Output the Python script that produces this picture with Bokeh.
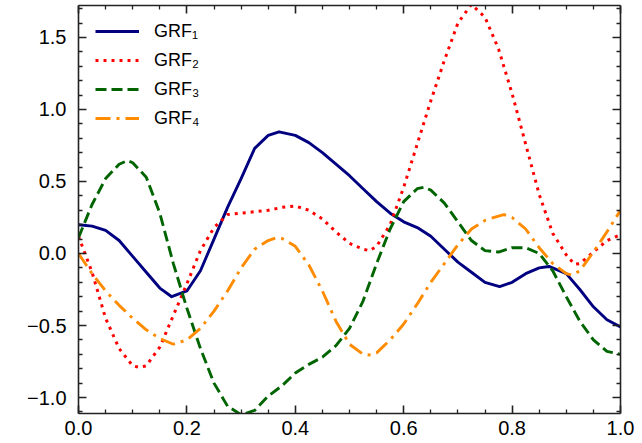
from bokeh.plotting import figure
from bokeh.models import (Range1d, FixedTicker, LinearAxis, Legend, LegendItem,
                          CustomLabelingPolicy)
from bokeh.embed import file_html
from bokeh.resources import INLINE

# ---------------- data ----------------
x1 = [0.0, 0.025, 0.05, 0.075, 0.1, 0.125, 0.15, 0.172, 0.2, 0.225,
      0.25, 0.275, 0.3, 0.325, 0.35, 0.37, 0.4, 0.425, 0.45, 0.475,
      0.5, 0.525, 0.55, 0.575, 0.6, 0.625, 0.65, 0.675, 0.7, 0.725,
      0.75, 0.777, 0.8, 0.825, 0.85, 0.868, 0.9, 0.925, 0.95, 0.975, 1.0]
grf1 = [0.20, 0.19, 0.16, 0.09, -0.02, -0.13, -0.24, -0.30, -0.26, -0.12,
        0.10, 0.32, 0.52, 0.73, 0.82, 0.845, 0.82, 0.77, 0.70, 0.62,
        0.54, 0.45, 0.36, 0.28, 0.22, 0.18, 0.12, 0.03, -0.06, -0.13,
        -0.20, -0.23, -0.20, -0.14, -0.10, -0.09, -0.14, -0.25, -0.37, -0.46, -0.51]

x2 = [0.0, 0.025, 0.05, 0.075, 0.1, 0.112, 0.125, 0.15, 0.175, 0.2, 0.225,
      0.25, 0.275, 0.3, 0.325, 0.35, 0.375, 0.4, 0.425, 0.45, 0.475,
      0.5, 0.525, 0.537, 0.55, 0.575, 0.6, 0.625, 0.65, 0.675, 0.7, 0.725,
      0.75, 0.775, 0.8, 0.825, 0.85, 0.875, 0.9, 0.915, 0.925, 0.95, 0.975, 1.0]
grf2 = [0.12, -0.13, -0.45, -0.66, -0.78, -0.79, -0.78, -0.65, -0.43, -0.21, 0.02,
        0.18, 0.27, 0.28, 0.29, 0.30, 0.32, 0.33, 0.30, 0.24, 0.15,
        0.07, 0.03, 0.02, 0.05, 0.20, 0.46, 0.76, 1.06, 1.34, 1.60, 1.73,
        1.64, 1.42, 1.11, 0.76, 0.41, 0.14, -0.01, -0.075, -0.07, 0.01, 0.09, 0.13]

x3 = [0.0, 0.025, 0.05, 0.075, 0.09, 0.1, 0.125, 0.15, 0.175, 0.2, 0.225,
      0.25, 0.275, 0.3, 0.325, 0.35, 0.375, 0.4, 0.425, 0.45, 0.475,
      0.5, 0.525, 0.55, 0.575, 0.6, 0.625, 0.637, 0.65, 0.675, 0.7, 0.725,
      0.75, 0.775, 0.8, 0.825, 0.85, 0.875, 0.9, 0.925, 0.95, 0.975, 1.0]
grf3 = [0.11, 0.34, 0.52, 0.62, 0.645, 0.63, 0.53, 0.28, -0.07, -0.38, -0.66,
        -0.90, -1.06, -1.12, -1.09, -0.99, -0.92, -0.83, -0.77, -0.72, -0.64,
        -0.52, -0.33, -0.07, 0.17, 0.36, 0.45, 0.46, 0.44, 0.35, 0.22, 0.09,
        0.02, 0.01, 0.04, 0.04, 0.00, -0.12, -0.30, -0.47, -0.60, -0.68, -0.70]

x4 = [0.0, 0.025, 0.05, 0.075, 0.1, 0.125, 0.15, 0.175, 0.2, 0.225,
      0.25, 0.275, 0.3, 0.325, 0.35, 0.365, 0.375, 0.4, 0.425, 0.45, 0.475,
      0.5, 0.525, 0.54, 0.55, 0.575, 0.6, 0.625, 0.65, 0.675, 0.7, 0.725,
      0.75, 0.775, 0.785, 0.8, 0.825, 0.85, 0.875, 0.9, 0.91, 0.925, 0.95, 0.975, 1.0]
grf4 = [0.00, -0.14, -0.26, -0.36, -0.45, -0.53, -0.59, -0.63, -0.60, -0.52,
        -0.40, -0.26, -0.10, 0.03, 0.09, 0.11, 0.105, 0.05, -0.08, -0.26, -0.47,
        -0.63, -0.70, -0.705, -0.69, -0.60, -0.49, -0.35, -0.20, -0.07, 0.06, 0.17,
        0.23, 0.26, 0.27, 0.25, 0.17, 0.04, -0.07, -0.14, -0.15, -0.12, 0.01, 0.15, 0.30]

series_labels = ["GRF\u2081", "GRF\u2082", "GRF\u2083", "GRF\u2084"]

x_ticks = [0.0, 0.2, 0.4, 0.6, 0.8, 1.0]
x_tick_labels = ["0.0", "0.2", "0.4", "0.6", "0.8", "1.0"]
x_minor_ticks = [0.05, 0.1, 0.15, 0.25, 0.3, 0.35, 0.45, 0.5, 0.55,
                 0.65, 0.7, 0.75, 0.85, 0.9, 0.95]
y_ticks = [-1.0, -0.5, 0.0, 0.5, 1.0, 1.5]
y_tick_labels = ["\u22121.0", "\u22120.5", "0.0", "0.5", "1.0", "1.5"]
y_minor_ticks = [-1.1, -0.9, -0.8, -0.7, -0.6, -0.4, -0.3, -0.2, -0.1,
                 0.1, 0.2, 0.3, 0.4, 0.6, 0.7, 0.8, 0.9, 1.1, 1.2, 1.3, 1.4, 1.6, 1.7]

# ---------------- figure ----------------
FONT = "Liberation Sans"

p = figure(width=636, height=443,
           min_border_left=78, min_border_right=16,
           min_border_top=5, min_border_bottom=30,
           x_range=Range1d(0.0, 1.0), y_range=Range1d(-1.111, 1.722),
           output_backend="svg", toolbar_location=None)
p.xgrid.visible = False
p.ygrid.visible = False
p.outline_line_color = None
p.background_fill_color = "white"
p.border_fill_color = "white"

no_labels = CustomLabelingPolicy(code="""
    const all = [...indices]
    for (const i of all) indices.unset(i)
    return indices
""")


def style_axis(ax, show_labels, standoff):
    ax.axis_line_color = "#222222"
    ax.axis_line_width = 1.6
    ax.major_tick_line_color = "#222222"
    ax.minor_tick_line_color = "#222222"
    ax.major_tick_line_width = 1.6
    ax.minor_tick_line_width = 1.3
    ax.major_tick_in = 8
    ax.major_tick_out = 0
    ax.minor_tick_in = 4
    ax.minor_tick_out = 0
    ax.major_label_text_font = FONT
    ax.major_label_text_color = "black"
    if show_labels:
        ax.major_label_text_font_size = "20px"
        ax.major_label_standoff = standoff
    else:
        ax.major_label_text_font_size = "0px"
        ax.major_label_standoff = 0
        ax.major_label_policy = no_labels


p.xaxis.ticker = FixedTicker(ticks=x_ticks, minor_ticks=x_minor_ticks)
p.yaxis.ticker = FixedTicker(ticks=y_ticks, minor_ticks=y_minor_ticks)
p.xaxis.major_label_overrides = dict(zip(x_ticks, x_tick_labels))
p.yaxis.major_label_overrides = dict(zip(y_ticks, y_tick_labels))
style_axis(p.xaxis[0], True, 7)
style_axis(p.yaxis[0], True, 12)

top_axis = LinearAxis(ticker=FixedTicker(ticks=x_ticks, minor_ticks=x_minor_ticks))
right_axis = LinearAxis(ticker=FixedTicker(ticks=y_ticks, minor_ticks=y_minor_ticks))
style_axis(top_axis, False, 0)
style_axis(right_axis, False, 0)
p.add_layout(top_axis, "above")
p.add_layout(right_axis, "right")

r1 = p.line(x1, grf1, line_color="navy", line_width=2.9, line_join="round")
r2 = p.line(x2, grf2, line_color="#ff0000", line_width=3, line_dash="3 5")
r3 = p.line(x3, grf3, line_color="darkgreen", line_width=2.9, line_dash="11 5")
r4 = p.line(x4, grf4, line_color="darkorange", line_width=2.9, line_dash="15 6 3 6")

legend = Legend(items=[LegendItem(label=series_labels[0], renderers=[r1]),
                       LegendItem(label=series_labels[1], renderers=[r2]),
                       LegendItem(label=series_labels[2], renderers=[r3]),
                       LegendItem(label=series_labels[3], renderers=[r4])],
                location=(17, 282), margin=0, padding=0, spacing=3,
                glyph_width=44, glyph_height=26, label_height=26,
                label_standoff=15,
                border_line_color=None, background_fill_alpha=0.0)
legend.label_text_font = FONT
legend.label_text_font_size = "18px"
legend.label_text_color = "black"
p.add_layout(legend, "center")

open("out.html", "w").write(file_html(p, INLINE))
